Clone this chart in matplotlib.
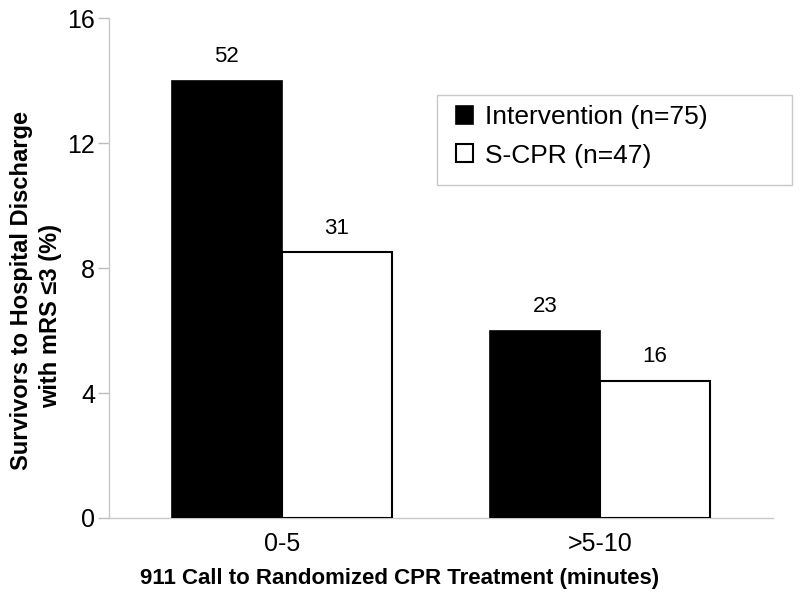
import numpy as np
import matplotlib.pyplot as plt
from matplotlib.patches import Rectangle

plt.rcParams['font.family'] = ['Liberation Sans', 'DejaVu Sans']

# Datos
categories = ['0-5', '>5-10']
intervention = [14.0, 6.0]
scpr = [8.5, 4.4]
intervention_labels = ['52', '23']
scpr_labels = ['31', '16']
legend_labels = ['Intervention (n=75)', 'S-CPR (n=47)']
yticks = [0, 4, 8, 12, 16]

fig = plt.figure(figsize=(8, 6.03), dpi=100)
ax = fig.add_axes([0.136, 0.141, 0.830, 0.829])

x = np.arange(len(categories))
w = 0.346
b1 = ax.bar(x - w / 2, intervention, w, color='black', edgecolor='black', linewidth=1.2,
            label=legend_labels[0], zorder=3)
b2 = ax.bar(x + w / 2, scpr, w, color='white', edgecolor='black', linewidth=1.5,
            label=legend_labels[1], zorder=3)

# Etiquetas sobre las barras
for bars, labs in [(b1, intervention_labels), (b2, scpr_labels)]:
    for rect, lab in zip(bars, labs):
        ax.annotate(lab, (rect.get_x() + rect.get_width() / 2, rect.get_height()),
                    xytext=(0, 10), textcoords='offset points',
                    ha='center', va='bottom', fontsize=16)

# Ejes
ax.set_xlim(-0.544, 1.544)
ax.set_ylim(0, 16)
ax.set_yticks(yticks)
ax.set_yticklabels([str(t) for t in yticks], fontsize=18)
ax.set_xticks(x)
ax.set_xticklabels(categories, fontsize=18)
ax.tick_params(axis='x', length=0, pad=10)
ax.tick_params(axis='y', direction='out', length=8, width=1, color='#bdbdbd', pad=2)
for s in ['top', 'right']:
    ax.spines[s].set_visible(False)
for s in ['left', 'bottom']:
    ax.spines[s].set_color('#c8c8c8')
    ax.spines[s].set_linewidth(1)

# Títulos de ejes
fig.text(0.5, 0.041, '911 Call to Randomized CPR Treatment (minutes)', ha='center', va='center',
         fontsize=16, fontweight='bold')
fig.text(0.027, 1 - 290 / 603, 'Survivors to Hospital Discharge', rotation=90, ha='center',
         va='center', fontsize=17, fontweight='bold')
fig.text(0.063, 1 - 316 / 603, 'with mRS \u22643 (%)', rotation=90, ha='center',
         va='center', fontsize=17, fontweight='bold')

# Leyenda
fig.patches.append(Rectangle((437 / 800, 1 - 185 / 603), 355 / 800, 90 / 603,
                             transform=fig.transFigure, facecolor='white',
                             edgecolor='#c8c8c8', linewidth=1, zorder=0))
fig.legend(handles=[b1, b2], labels=legend_labels, loc='upper left',
           bbox_to_anchor=(456 / 800, 1 - 105 / 603), frameon=False, fontsize=19,
           handlelength=0.65, handleheight=0.65, handletextpad=0.45,
           labelspacing=0.55, borderpad=0, borderaxespad=0)

plt.savefig('out.png', dpi=100)
